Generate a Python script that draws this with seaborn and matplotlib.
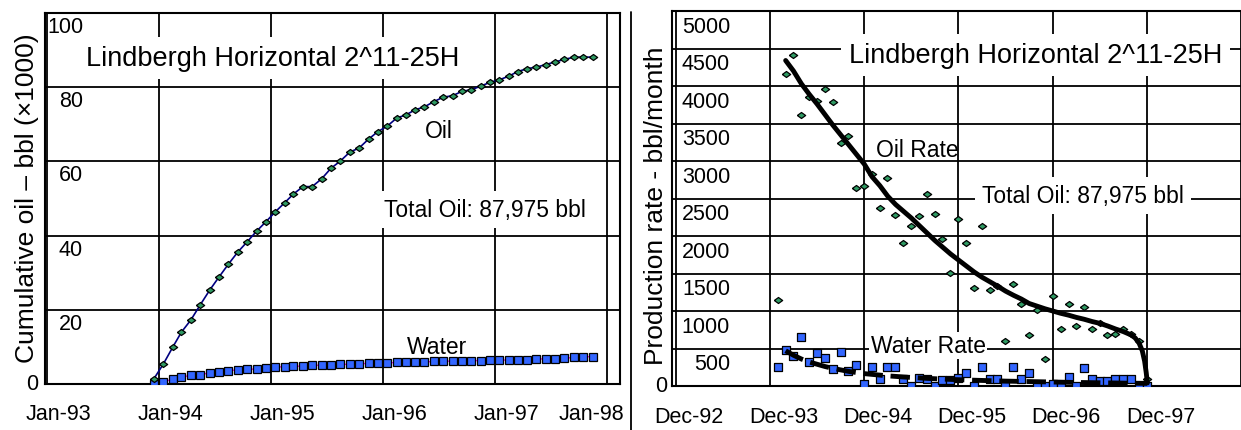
import numpy as np
import pandas as pd
import matplotlib
matplotlib.use("Agg")
import matplotlib.pyplot as plt
import matplotlib.dates as mdates
from matplotlib.lines import Line2D
import seaborn as sns

# ---------------- data ----------------
# Left panel: cumulative production (x1000 bbl), monthly
cum_start = "1993-12-15"
cum_oil = [1.4, 5.4, 10.0, 14.0, 17.3, 21.3, 25.3, 28.8, 32.3, 35.6, 38.3, 41.2,
           43.7, 46.4, 48.9, 51.2, 53.2, 53.2, 55.3, 58.1, 60.1, 62.5, 63.6, 66.0,
           68.0, 69.5, 71.7, 72.5, 73.9, 74.7, 76.1, 77.3, 77.7, 78.9, 79.3, 80.3,
           81.3, 82.0, 83.0, 84.2, 85.0, 85.4, 86.1, 86.8, 87.5, 88.1, 88.1, 88.1]
cum_water = [0.0, 0.6, 1.3, 1.8, 2.4, 2.5, 3.0, 3.3, 3.5, 3.9, 4.0, 4.0,
             4.2, 4.5, 4.7, 4.8, 4.8, 5.0, 5.1, 5.2, 5.3, 5.3, 5.4, 5.6,
             5.7, 5.7, 5.8, 5.8, 5.9, 5.9, 6.1, 6.1, 6.2, 6.2, 6.3, 6.3,
             6.4, 6.4, 6.5, 6.5, 6.6, 6.7, 6.8, 6.8, 6.9, 7.2, 7.3, 7.4]

# Right panel: monthly rates (bbl/month)
rate_start = "1994-01-01"
oil_rate = [1150, 4160, 4420, 3610, 3850, 3800, 3960, 3790, 3240, 3340, 2635, 2670,
            2830, 2370, 2770, 2275, 1905, 2130, 2270, 2565, 2300, 1960, 1505, 2230,
            1910, 1305, 2135, 1280, 1340, 605, 1365, 1100, 680, 1015, 365, 1200,
            760, 1090, 795, 1055, 760, 835, 675, 700, 765, 695, 600, 95]
water_rate = [250, 480, 395, 650, 315, 435, 375, 225, 455, 205, 285, 30,
              255, 95, 255, 260, 95, 5, 105, 95, 5, 85, 85, 105,
              175, 5, 250, 95, 95, 5, 255, 95, 175, 5, 5, 30,
              5, 125, 5, 235, 95, 70, 70, 100, 100, 95, 5, 5]

# fitted trend curves (month offset from rate_start, value)
oil_fit_month = [1, 2, 3, 4, 5, 6, 7, 8, 9, 10, 11, 12, 13, 14, 15, 16, 17, 18,
                 19, 20, 21, 22, 23, 24, 25, 26, 27, 28, 29, 30, 31, 32, 33, 34,
                 35, 36, 37, 38, 39, 40, 41, 42, 43, 44, 45, 45.5, 46, 46.4,
                 46.7, 46.9, 47.05]
oil_fit = [4340, 4200, 4030, 3890, 3760, 3620, 3480, 3350, 3220, 3090, 2960, 2790,
           2670, 2530, 2420, 2330, 2240, 2140, 2040, 1940, 1850, 1760, 1680, 1600,
           1520, 1450, 1390, 1330, 1265, 1210, 1160, 1100, 1065, 1030, 1000, 970,
           945, 915, 890, 860, 835, 800, 760, 725, 680, 640, 570, 470, 330, 180, 40]
water_fit_month = list(range(1, 48))
water_fit = [470, 410, 360, 320, 290, 260, 235, 215, 195, 180, 165, 155, 145, 135,
             128, 120, 114, 108, 102, 97, 92, 88, 84, 80, 77, 74, 71, 68, 65, 63,
             61, 59, 57, 55, 53, 51, 49, 47, 46, 44, 43, 41, 40, 38, 37, 36, 35]

left_ticks = ["Jan-93", "Jan-94", "Jan-95", "Jan-96", "Jan-97", "Jan-98"]
right_ticks = ["Dec-92", "Dec-93", "Dec-94", "Dec-95", "Dec-96", "Dec-97"]
left_yticks = [0, 20, 40, 60, 80, 100]
right_yticks = [0, 500, 1000, 1500, 2000, 2500, 3000, 3500, 4000, 4500, 5000]
title_text = "Lindbergh Horizontal 2^11-25H"
total_text = "Total Oil: 87,975 bbl"

# ---------------- build frames ----------------
n = len(cum_oil)
cum_dates = pd.date_range(pd.Timestamp(cum_start).replace(day=1), periods=n, freq="MS") + pd.Timedelta(days=14)
df_cum = pd.DataFrame({"date": cum_dates, "oil": cum_oil, "water": cum_water})
rate_dates = pd.date_range(rate_start, periods=len(oil_rate), freq="MS")
df_rate = pd.DataFrame({"date": rate_dates, "oil": oil_rate, "water": water_rate})
t0 = pd.Timestamp(rate_start)
df_ofit = pd.DataFrame({"date": [t0 + pd.Timedelta(days=m * 30.44) for m in oil_fit_month],
                        "v": oil_fit})
df_wfit = pd.DataFrame({"date": [t0 + pd.Timedelta(days=m * 30.44) for m in water_fit_month],
                        "v": water_fit})

# ---------------- style ----------------
sns.set_style("white")
plt.rcParams["font.family"] = ["Liberation Sans", "DejaVu Sans"]
plt.rcParams["axes.edgecolor"] = "black"
plt.rcParams["text.color"] = "black"
plt.rcParams["axes.labelcolor"] = "black"
plt.rcParams["xtick.color"] = "black"
plt.rcParams["ytick.color"] = "black"

W, H = 1241, 431
fig = plt.figure(figsize=(W / 100, H / 100), dpi=100)
axL = fig.add_axes([45 / W, (H - 385) / H, 575 / W, 371 / H])
axR = fig.add_axes([672 / W, (H - 387) / H, 569 / W, 375 / H])

diamond = [(-1, 0), (0, 0.72), (1, 0), (0, -0.72), (-1, 0)]
green = "#2f9a63"
blue = "#3366ff"
TICK_FS = 15.5
TXT_FS = 16.5
TITLE_FS = 19.5

# ---------------- left panel ----------------
sns.lineplot(data=df_cum, x="date", y="water", ax=axL, color="#ff00ff", lw=1.0,
             marker="s", markersize=5.2, markerfacecolor=blue,
             markeredgecolor="black", markeredgewidth=0.9, zorder=4)
sns.lineplot(data=df_cum, x="date", y="oil", ax=axL, color="#000080", lw=1.2,
             marker=diamond, markersize=6, markerfacecolor=green,
             markeredgecolor="black", markeredgewidth=0.9, zorder=5)

axL.set_xlim(mdates.date2num(pd.Timestamp("1992-12-25")), mdates.date2num(pd.Timestamp("1998-02-12")))
axL.set_ylim(0, 100)
majL = [mdates.date2num(pd.Timestamp(f"{y}-01-01")) for y in range(1993, 1999)]
axL.set_xticks(majL)
axL.set_xticklabels([])
label_pos_L = [m + 37 for m in majL[:-1]] + [majL[-1] - 52]
axL.set_xticks(label_pos_L, minor=True)
axL.set_xticklabels(left_ticks, minor=True, fontsize=TICK_FS)
axL.tick_params(axis="x", which="minor", length=0, pad=13.5)
axL.tick_params(axis="x", which="major", direction="inout", length=8, width=1.3, color="black")
axL.set_yticks(left_yticks)
axL.set_yticklabels([])
axL.tick_params(axis="y", which="major", direction="inout", length=8, width=1.3, color="black")
axL.grid(True, which="major", color="black", lw=1.3)
axL.set_axisbelow(True)
for s in axL.spines.values():
    s.set_color("black")
    s.set_linewidth(1.5)
axL.set_xlabel("")
axL.set_ylabel("Cumulative oil – bbl (×1000)", fontsize=19)
axL.yaxis.set_label_coords(-0.011, 0.503)

ytr = axL.get_yaxis_transform()
for v in left_yticks:
    if v == 0:
        axL.annotate(str(v), xy=(0, v), xycoords=ytr, xytext=(-5, 0), textcoords="offset points",
                     ha="right", va="center", fontsize=TICK_FS, annotation_clip=False)
    else:
        axL.annotate(str(v), xy=(0, v), xycoords=ytr, xytext=(27.4, -2.2), textcoords="offset points",
                     ha="right", va="top", fontsize=TICK_FS, annotation_clip=False, zorder=6)

box = dict(boxstyle="square,pad=0.3", fc="white", ec="none")
axL.text(0.3965, 0.860, title_text, transform=axL.transAxes, ha="center", va="baseline",
         fontsize=TITLE_FS, bbox=box, zorder=6)
axL.text(0.685, 0.666, "Oil", transform=axL.transAxes, ha="center", va="baseline",
         fontsize=TXT_FS, zorder=6)
axL.text(0.765, 0.453, total_text, transform=axL.transAxes, ha="center", va="baseline",
         fontsize=TXT_FS, bbox=box, zorder=6)
axL.text(0.682, 0.0836, "Water", transform=axL.transAxes, ha="center", va="baseline",
         fontsize=TXT_FS, zorder=6)

# ---------------- right panel ----------------
sns.scatterplot(data=df_rate, x="date", y="water", ax=axR, marker="s", s=26,
                color=blue, edgecolor="black", linewidth=0.9, zorder=4)
sns.scatterplot(data=df_rate, x="date", y="oil", ax=axR, marker=diamond, s=36,
                color=green, edgecolor="black", linewidth=0.9, zorder=4)
sns.lineplot(data=df_wfit, x="date", y="v", ax=axR, color="black", lw=3.5,
             linestyle=(0, (4, 1.6)), zorder=5)
sns.lineplot(data=df_ofit, x="date", y="v", ax=axR, color="black", lw=3.5, zorder=5)

axR.set_xlim(mdates.date2num(pd.Timestamp("1992-11-17")), mdates.date2num(pd.Timestamp("1998-11-06")))
axR.set_ylim(0, 5000)
majR = [mdates.date2num(pd.Timestamp(f"{y}-12-01")) for y in range(1992, 1999)]
axR.set_xticks(majR)
axR.set_xticklabels([])
axR.set_xticks([m + 53 for m in majR[:6]], minor=True)
axR.set_xticklabels(right_ticks, minor=True, fontsize=TICK_FS)
axR.tick_params(axis="x", which="minor", length=0, pad=14.2)
axR.tick_params(axis="x", which="major", direction="inout", length=8, width=1.3, color="black")
axR.set_yticks(right_yticks)
axR.set_yticklabels([])
axR.tick_params(axis="y", which="major", direction="inout", length=8, width=1.3, color="black")
axR.grid(True, which="major", color="black", lw=1.3)
axR.set_axisbelow(True)
for k, s in axR.spines.items():
    s.set_color("black")
    s.set_linewidth(1.5)
axR.spines["right"].set_visible(False)
axR.set_xlabel("")
axR.set_ylabel("Production rate - bbl/month", fontsize=19)
axR.yaxis.set_label_coords(-0.0077, 0.483)

ytr = axR.get_yaxis_transform()
for v in right_yticks:
    if v == 0:
        axR.annotate(str(v), xy=(0, v), xycoords=ytr, xytext=(-3.6, 0), textcoords="offset points",
                     ha="right", va="center", fontsize=TICK_FS, annotation_clip=False)
    else:
        axR.annotate(str(v), xy=(0, v), xycoords=ytr, xytext=(41.8, -3.6), textcoords="offset points",
                     ha="right", va="top", fontsize=TICK_FS, annotation_clip=False, zorder=6)

axR.text(0.639, 0.864, title_text, transform=axR.transAxes, ha="center", va="baseline",
         fontsize=TITLE_FS, bbox=box, zorder=6)
axR.text(0.4306, 0.613, "Oil Rate", transform=axR.transAxes, ha="center", va="baseline",
         fontsize=TXT_FS, zorder=6)
axR.text(0.722, 0.491, total_text, transform=axR.transAxes, ha="center", va="baseline",
         fontsize=TXT_FS, bbox=box, zorder=6)
axR.text(0.45, 0.0907, "Water Rate", transform=axR.transAxes, ha="center", va="baseline",
         fontsize=TXT_FS, bbox=dict(boxstyle="square,pad=0.08", fc="white", ec="none"), zorder=6)

# separator line between panels
fig.add_artist(Line2D([631 / W, 631 / W], [0, (H - 13) / H], color="black", lw=1.3))

fig.savefig("out.png", dpi=100)
